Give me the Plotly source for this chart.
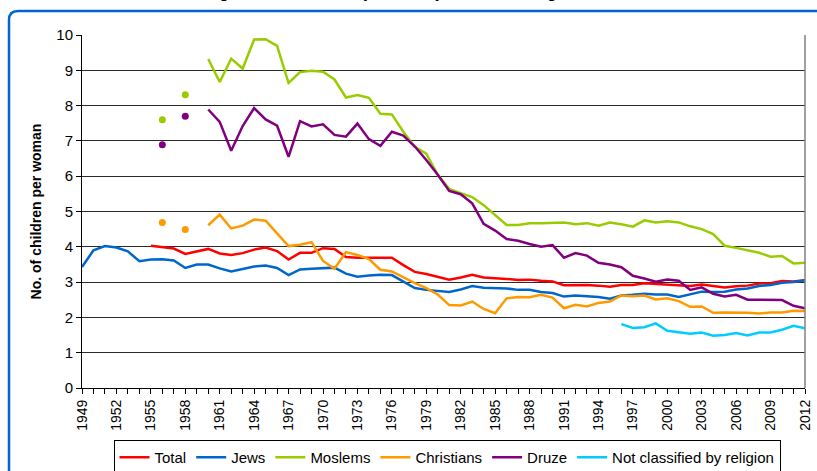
import plotly.graph_objects as go

years = list(range(1949, 2013))
N = None

jews = [3.43, 3.90, 4.02, 3.98, 3.87, 3.59, 3.64, 3.65, 3.61, 3.40,
        3.50, 3.50, 3.39, 3.30, 3.37, 3.44, 3.47, 3.40, 3.20, 3.36,
        3.38, 3.39, 3.41, 3.24, 3.15, 3.19, 3.21, 3.20, 3.02, 2.83,
        2.78, 2.75, 2.72, 2.79, 2.89, 2.84, 2.84, 2.82, 2.78, 2.78,
        2.72, 2.69, 2.59, 2.62, 2.60, 2.58, 2.53, 2.62, 2.64, 2.67,
        2.65, 2.65, 2.58, 2.65, 2.73, 2.72, 2.73, 2.79, 2.82, 2.89,
        2.92, 2.98, 3.00, 3.05]

total = [N, N, N, N, N, N, 4.03, 4.00, 3.95, 3.80,
         3.88, 3.94, 3.81, 3.77, 3.82, 3.92, 3.98, 3.88, 3.64, 3.83,
         3.83, 3.96, 3.94, 3.71, 3.69, 3.69, 3.68, 3.69, 3.48, 3.29,
         3.23, 3.15, 3.07, 3.13, 3.21, 3.13, 3.12, 3.09, 3.06, 3.07,
         3.04, 3.02, 2.91, 2.92, 2.92, 2.90, 2.87, 2.92, 2.92, 2.97,
         2.95, 2.95, 2.91, 2.89, 2.93, 2.89, 2.85, 2.88, 2.90, 2.96,
         2.97, 3.03, 3.02, 3.05]

moslems = [N, N, N, N, N, N, N, 7.60, N, 8.31,
           N, 9.32, 8.67, 9.33, 9.05, 9.87, 9.88, 9.69, 8.64, 8.95,
           8.99, 8.96, 8.74, 8.23, 8.30, 8.22, 7.77, 7.75, 7.26, 6.83,
           6.64, 6.04, 5.64, 5.52, 5.41, 5.18, 4.89, 4.62, 4.62, 4.67,
           4.67, 4.69, 4.69, 4.64, 4.67, 4.60, 4.69, 4.64, 4.57, 4.75,
           4.69, 4.72, 4.69, 4.58, 4.50, 4.36, 4.03, 3.97, 3.90, 3.83,
           3.72, 3.74, 3.53, 3.55]

christians = [N, N, N, N, N, N, N, 4.69, N, 4.49,
              N, 4.61, 4.91, 4.52, 4.60, 4.77, 4.74, 4.38, 4.02, 4.06,
              4.13, 3.60, 3.38, 3.85, 3.77, 3.65, 3.35, 3.30, 3.13, 2.97,
              2.83, 2.65, 2.35, 2.34, 2.45, 2.24, 2.12, 2.54, 2.58, 2.57,
              2.64, 2.56, 2.26, 2.36, 2.31, 2.41, 2.45, 2.62, 2.60, 2.62,
              2.51, 2.54, 2.46, 2.30, 2.31, 2.13, 2.14, 2.14, 2.13, 2.11,
              2.14, 2.14, 2.19, 2.18]

druze = [N, N, N, N, N, N, N, 6.89, N, 7.70,
         N, 7.89, 7.54, 6.72, 7.42, 7.93, 7.61, 7.43, 6.55, 7.56,
         7.41, 7.47, 7.17, 7.12, 7.49, 7.05, 6.86, 7.26, 7.15, 6.84,
         6.46, 6.04, 5.58, 5.49, 5.23, 4.65, 4.46, 4.22, 4.17, 4.08,
         4.00, 4.05, 3.69, 3.82, 3.75, 3.55, 3.50, 3.42, 3.18, 3.10,
         3.01, 3.07, 3.04, 2.78, 2.85, 2.67, 2.59, 2.64, 2.50, 2.50,
         2.50, 2.49, 2.33, 2.26]

not_classified = [N] * 47 + [1.81, 1.70, 1.72, 1.83, 1.62, 1.58, 1.54, 1.57,
                             1.48, 1.50, 1.56, 1.49, 1.57, 1.57, 1.65, 1.76, 1.69]

series_names = ["Total", "Jews", "Moslems", "Christians", "Druze", "Not classified by religion"]
series_values = [total, jews, moslems, christians, druze, not_classified]
series_colors = ["#FF0000", "#0066CC", "#99CC00", "#FF9900", "#800080", "#00CCFF"]

x_tick_labels = [str(y) if (y - 1949) % 3 == 0 else "" for y in years]
title_text = "Figure 1. Total Fertility Rates by Mother's Religion, 1949-2012"
y_title = "No. of children per woman"

FONT = "Arial, 'Liberation Sans', sans-serif"

fig = go.Figure()
for name, vals, col in zip(series_names, series_values, series_colors):
    fig.add_trace(go.Scatter(x=years, y=vals, name=name, mode="lines",
                             line=dict(color=col, width=2.5), connectgaps=False))
    # isolated points (no neighbours) shown as dots
    iso_x, iso_y = [], []
    for i, v in enumerate(vals):
        if v is None:
            continue
        prev_v = vals[i - 1] if i > 0 else None
        next_v = vals[i + 1] if i < len(vals) - 1 else None
        if prev_v is None and next_v is None:
            iso_x.append(years[i])
            iso_y.append(v)
    if iso_x:
        fig.add_trace(go.Scatter(x=iso_x, y=iso_y, mode="markers", showlegend=False,
                                 marker=dict(color=col, size=7), hoverinfo="skip"))

W, H = 817, 471
ml, mr, mt, mb = 82, 12, 35, 83
pw, ph = W - ml - mr, H - mt - mb

def px2paper_x(px):
    return (px - ml) / pw

def px2paper_y(py):
    return (H - mb - py) / ph

# rounded chart-area border (top + left)
bx, by, r = 9, 11, 9
path = (f"M {px2paper_x(bx)},{px2paper_y(H + 10)} L {px2paper_x(bx)},{px2paper_y(by + r)} "
        f"Q {px2paper_x(bx)},{px2paper_y(by)} {px2paper_x(bx + r)},{px2paper_y(by)} "
        f"L {px2paper_x(W + 10)},{px2paper_y(by)}")

fig.update_layout(
    width=W, height=H,
    margin=dict(l=ml, r=mr, t=mt, b=mb, autoexpand=False),
    paper_bgcolor="white", plot_bgcolor="white",
    font=dict(family=FONT, color="black"),
    showlegend=True,
    legend=dict(orientation="h", x=px2paper_x(447), xanchor="center", y=px2paper_y(440),
                yanchor="top", bordercolor="black", borderwidth=1,
                font=dict(size=15, family=FONT), itemwidth=30, tracegroupgap=0),
    xaxis=dict(range=[1949, 2012], tickvals=years, ticktext=x_tick_labels,
               tickangle=-90, tickfont=dict(size=14), ticks="outside", ticklen=5,
               tickcolor="black", showline=True, linecolor="black", linewidth=1,
               showgrid=False, zeroline=False, mirror=False, automargin=False),
    yaxis=dict(range=[0, 10], dtick=1, tickfont=dict(size=15), ticks="outside", ticklen=5,
               tickcolor="black", showline=True, linecolor="black", linewidth=1,
               showgrid=True, gridcolor="#2a2a2a", gridwidth=1, zeroline=False,
               automargin=False,
               title=dict(text=f"<b>{y_title}</b>", font=dict(size=14), standoff=11)),
    shapes=[
        dict(type="path", path=path, xref="paper", yref="paper",
             line=dict(color="#0066CC", width=2.5), layer="above"),
        dict(type="line", xref="paper", yref="paper", x0=1, x1=1, y0=0, y1=1,
             line=dict(color="#808080", width=1.5)),
    ],
    annotations=[
        dict(text=title_text, xref="paper", yref="paper", x=px2paper_x(437),
             y=px2paper_y(-7), xanchor="center", yanchor="middle", showarrow=False,
             font=dict(size=17, family=FONT, color="black")),
    ],
)

fig.write_html("out.html", config={"displayModeBar": False},
               post_script="document.body.style.margin='0';document.body.style.overflow='hidden';")
